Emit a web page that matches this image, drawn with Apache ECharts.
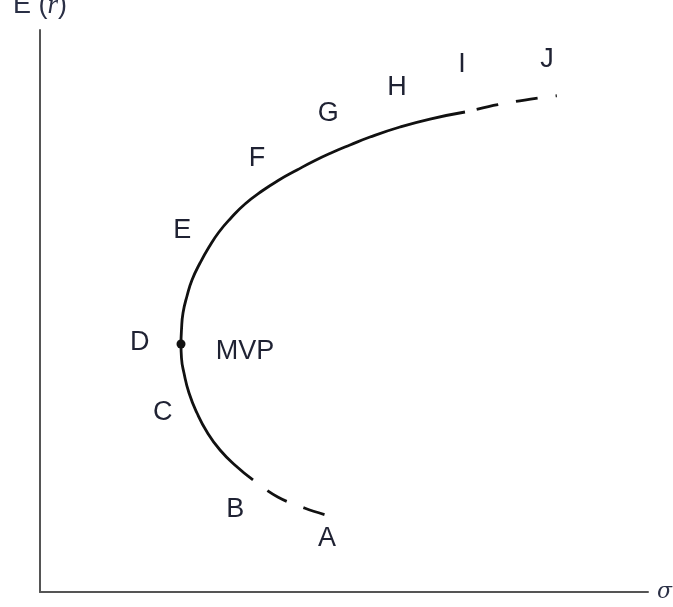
<!DOCTYPE html>
<html>
<head>
<meta charset="utf-8">
<script src="https://cdn.jsdelivr.net/npm/echarts@6/dist/echarts.min.js"></script>
<style>
    html, body { margin: 0; padding: 0; background: #fff; }
    #chart { width: 673px; height: 607px; }
</style>
</head>
<body>
<div id="chart"></div>
<script>
// frontier (sigma, E(r)) in arbitrary units 0-100
var frontierSolid = [
    [35.03, 19.93], [32.24, 22.42], [29.61, 25.27], [27.47, 28.47], [25.82, 31.85],
    [24.51, 35.41], [23.68, 38.97], [23.27, 41.64], [23.19, 44.13], [23.27, 46.62],
    [23.52, 49.64], [24.18, 52.67], [25.00, 55.52], [26.32, 58.54], [27.80, 61.39],
    [29.44, 64.06], [31.41, 66.55], [33.72, 69.04], [36.51, 71.35], [39.31, 73.31],
    [42.27, 75.09], [45.07, 76.69], [47.86, 78.11], [50.99, 79.54], [54.28, 80.96],
    [59.21, 82.74], [64.14, 84.16], [69.90, 85.41]
];
var frontierLow = [[35.03, 19.93], [39.1, 16.9], [43.6, 14.9], [47.0, 13.7]];
var frontierHigh = [[69.90, 85.41], [75.3, 86.7], [81.9, 87.9], [85.0, 88.3]];
var mvp = [[23.19, 44.13]];

var pointNames = ['A', 'B', 'C', 'D', 'MVP', 'E', 'F', 'G', 'H', 'I', 'J'];
var pointPos = [
    [47.2, 9.6], [32.1, 14.6], [20.2, 31.9], [16.4, 44.3], [33.7, 42.7],
    [23.4, 64.4], [35.7, 77.2], [47.4, 85.2], [58.7, 89.7], [69.4, 93.8], [83.4, 94.7]
];

var myChart = echarts.init(document.getElementById('chart'));

var lineColor = '#111';
var option = {
    animation: false,
    grid: { left: 40, right: 25, top: 30, bottom: 15, containLabel: false, outerBoundsMode: 'none' },
    xAxis: {
        type: 'value',
        min: 0,
        max: 100,
        name: 'σ',
        nameLocation: 'end',
        nameGap: 9,
        nameTextStyle: {
            fontFamily: 'DejaVu Serif',
            fontStyle: 'italic',
            fontSize: 22,
            color: '#2a2f45',
            align: 'left',
            verticalAlign: 'middle'
        },
        axisLine: { lineStyle: { color: '#555', width: 2 } },
        axisTick: { show: false },
        axisLabel: { show: false },
        splitLine: { show: false }
    },
    yAxis: {
        type: 'value',
        min: 0,
        max: 100,
        name: 'E ({it|r})',
        nameLocation: 'end',
        nameGap: 24,
        nameTextStyle: {
            fontFamily: 'Liberation Sans',
            fontSize: 27,
            color: '#2a2f45',
            align: 'center',
            verticalAlign: 'middle',
            rich: {
                it: { fontFamily: 'Liberation Serif', fontStyle: 'italic', fontSize: 27, color: '#2a2f45' }
            }
        },
        axisLine: { lineStyle: { color: '#555', width: 2 } },
        axisTick: { show: false },
        axisLabel: { show: false },
        splitLine: { show: false }
    },
    series: [
        {
            type: 'line',
            data: frontierSolid,
            smooth: 0.5,
            symbol: 'none',
            lineStyle: { color: lineColor, width: 2.8 }
        },
        {
            type: 'line',
            data: frontierLow,
            smooth: 0.4,
            symbol: 'none',
            lineStyle: { color: lineColor, width: 2.8, type: [22, 18], dashOffset: 22 }
        },
        {
            type: 'line',
            data: frontierHigh,
            smooth: 0.4,
            symbol: 'none',
            lineStyle: { color: lineColor, width: 2.8, type: [22, 18], dashOffset: 28 }
        },
        {
            type: 'scatter',
            data: mvp,
            symbol: 'circle',
            symbolSize: 9,
            itemStyle: { color: lineColor, opacity: 1 }
        },
        {
            type: 'scatter',
            data: pointNames.map(function (n, i) { return { name: n, value: pointPos[i] }; }),
            symbolSize: 1,
            itemStyle: { color: 'transparent', opacity: 1 },
            label: {
                show: true,
                position: 'inside',
                formatter: '{b}',
                fontFamily: 'Liberation Sans',
                fontSize: 27,
                color: '#1f2233'
            },
            silent: true
        }
    ]
};
myChart.setOption(option);
</script>
</body>
</html>
